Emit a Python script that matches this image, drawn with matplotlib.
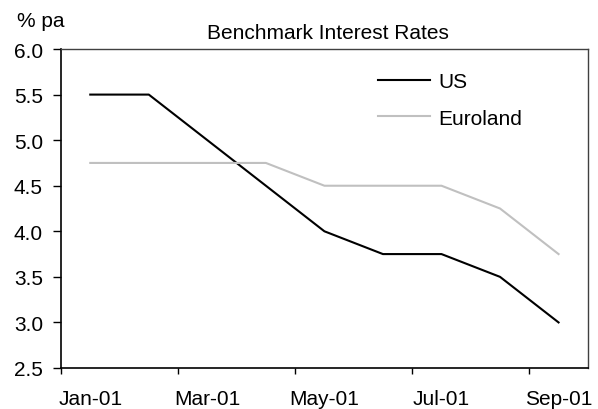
import matplotlib
matplotlib.use("Agg")
import matplotlib.pyplot as plt
import numpy as np

plt.rcParams['font.family'] = ['Liberation Sans', 'DejaVu Sans']

months = ['Jan-01', 'Feb-01', 'Mar-01', 'Apr-01', 'May-01', 'Jun-01', 'Jul-01', 'Aug-01', 'Sep-01']
us = [5.5, 5.5, 5.0, 4.5, 4.0, 3.75, 3.75, 3.5, 3.0]
euroland = [4.75, 4.75, 4.75, 4.75, 4.5, 4.5, 4.5, 4.25, 3.75]

x = np.arange(len(months))

fig = plt.figure(figsize=(5.98, 4.10), dpi=100)
ax = fig.add_axes([0.102, 0.10, 0.881, 0.778])

ax.plot(x, us, color='black', lw=1.5, label='US')
ax.plot(x, euroland, color='#c0c0c0', lw=1.5, label='Euroland')

ax.set_xlim(-0.5, len(months) - 0.5)
ax.set_ylim(2.5, 6.0)
ax.set_yticks(np.arange(2.5, 6.01, 0.5))
ax.yaxis.set_major_formatter(matplotlib.ticker.FormatStrFormatter('%.1f'))

# tick marks sit between categories, labels on every other month
ax.set_xticks(np.arange(-0.5, len(months) - 1, 2))
ax.set_xticklabels([])
ax.set_xticks(x[::2], minor=True)
ax.set_xticklabels(months[::2], minor=True)
ax.tick_params(axis='x', which='minor', length=0, pad=15, labelsize=15)
ax.tick_params(axis='x', which='major', length=4.5, direction='out', width=1)
ax.tick_params(axis='y', length=6, direction='out', width=1, labelsize=15, pad=7)

for side in ['left', 'bottom']:
    ax.spines[side].set_color('black')
    ax.spines[side].set_linewidth(1.2)
for side in ['top', 'right']:
    ax.spines[side].set_color('#404040')
    ax.spines[side].set_linewidth(1.0)

fig.text(0.548, 0.918, 'Benchmark Interest Rates', ha='center', va='center', fontsize=15)
fig.text(0.028, 0.948, '% pa', ha='left', va='center', fontsize=15)

ax.legend(loc='upper left', bbox_to_anchor=(0.586, 0.953), frameon=False, fontsize=15,
          handlelength=2.5, handletextpad=0.4, labelspacing=0.83, borderaxespad=0)

fig.savefig('out.png', dpi=100)
